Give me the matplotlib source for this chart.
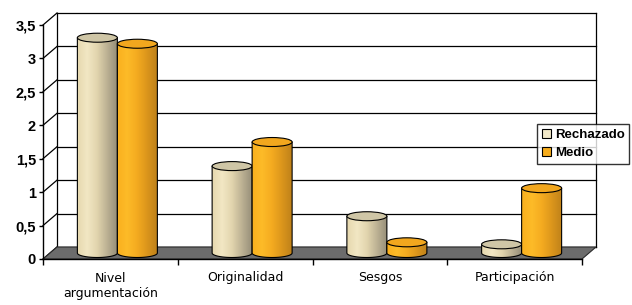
import numpy as np
import matplotlib
matplotlib.use('Agg')
import matplotlib.pyplot as plt
from matplotlib.patches import Polygon, Ellipse, PathPatch, Patch
from matplotlib.path import Path
from matplotlib.colors import LinearSegmentedColormap

# datos
categorias = ['Nivel\nargumentación', 'Originalidad', 'Sesgos', 'Participación']
series = ['Rechazado', 'Medio']
rechazado = [3.22, 1.30, 0.55, 0.13]
medio = [3.13, 1.66, 0.16, 0.97]
yticks = [0, 0.5, 1, 1.5, 2, 2.5, 3, 3.5]
ytick_labels = ['0', '0,5', '1', '1,5', '2', '2,5', '3', '3,5']

W, H = 632, 305
fig = plt.figure(figsize=(W / 100, H / 100), dpi=100)
ax = fig.add_axes([43 / W, 46 / H, 539 / W, 234 / H])
ax.set_xlim(0, 4)
ax.set_ylim(0, 3.5)
ax.set_facecolor('none')

# profundidad 3D falsa (px -> datos)
pxx = 4 / 539
pxy = 3.5 / 234
dx, dy = 14 * pxx, 12 * pxy

# suelo gris
ax.add_patch(Polygon([(0, 0), (4, 0), (4 + dx, dy), (dx, dy)], closed=True,
                     facecolor='#6c6c6c', edgecolor='#2a2a2a', lw=0.8,
                     clip_on=False, zorder=1))

# pared del fondo y pared lateral
for y in yticks:
    ax.plot([dx, 4 + dx], [y + dy, y + dy], color='black', lw=0.9,
            clip_on=False, zorder=0)
    ax.plot([0, dx], [y, y + dy], color='black', lw=0.9, clip_on=False, zorder=0)
ax.plot([dx, dx], [dy, 3.5 + dy], color='black', lw=0.9, clip_on=False, zorder=0)
ax.plot([4 + dx, 4 + dx], [dy, 3.5 + dy], color='black', lw=0.9, clip_on=False, zorder=0)

# cilindros
bw = 40 * pxx
eh = 9 * pxy
cmaps = [
    LinearSegmentedColormap.from_list('r', ['#e6d8ae', '#f2e7c4', '#e2d5ae', '#bdb294', '#98907a']),
    LinearSegmentedColormap.from_list('m', ['#f9b01e', '#fdbb28', '#f4ab20', '#dc961c', '#c0821a']),
]
tops = ['#cfc6a6', '#f2a71e']
grad = np.linspace(0, 1, 64).reshape(1, -1)

for j, vals in enumerate([rechazado, medio]):
    for i, v in enumerate(vals):
        xc = i + 0.5 + (j - 0.5) * bw + dx / 2
        base = dy / 2
        top = v + dy / 2
        t = np.linspace(np.pi, 2 * np.pi, 40)
        verts = [(xc - bw / 2, top), (xc - bw / 2, base)]
        verts += list(zip(xc + bw / 2 * np.cos(t), base + eh / 2 * np.sin(t)))
        verts += [(xc + bw / 2, top), (xc - bw / 2, top)]
        codes = [Path.MOVETO] + [Path.LINETO] * (len(verts) - 2) + [Path.CLOSEPOLY]
        body = PathPatch(Path(verts, codes), facecolor='none', edgecolor='black',
                         lw=0.8, clip_on=False, zorder=3 + j)
        ax.add_patch(body)
        im = ax.imshow(grad, cmap=cmaps[j], aspect='auto', zorder=2.5 + j,
                       extent=[xc - bw / 2, xc + bw / 2, base - eh / 2, top],
                       interpolation='bilinear')
        im.set_clip_path(body)
        ax.add_patch(Ellipse((xc, top), bw, eh, facecolor=tops[j], edgecolor='black',
                             lw=0.8, clip_on=False, zorder=3.2 + j))

ax.set_xlim(0, 4)
ax.set_ylim(0, 3.5)

# ejes
for s in ['top', 'right']:
    ax.spines[s].set_visible(False)
ax.spines['left'].set_linewidth(1)
ax.spines['bottom'].set_linewidth(1)
ax.spines['left'].set_zorder(6)
ax.spines['bottom'].set_zorder(6)
ax.set_yticks(yticks)
ax.set_yticklabels(ytick_labels, fontfamily=['Liberation Sans', 'DejaVu Sans'],
                   fontweight='bold', fontsize=10.5)
ax.tick_params(axis='y', length=3, width=1, pad=2)
ax.set_xticks([0.5, 1.5, 2.5, 3.5])
ax.set_xticklabels(categorias, fontfamily='DejaVu Sans', fontsize=9,
                   linespacing=1.25)
ax.tick_params(axis='x', length=0, pad=9)
ax.set_xticks([0, 1, 2, 3, 4], minor=True)
ax.tick_params(axis='x', which='minor', length=4, width=1)

# leyenda
handles = [Patch(facecolor='#f1e8c8', edgecolor='black', lw=0.8),
           Patch(facecolor='#f7ad1c', edgecolor='black', lw=0.8)]
leg = fig.legend(handles, series, loc='upper left',
                 bbox_to_anchor=(537 / W, 1 - 124 / H), frameon=True,
                 fancybox=False, edgecolor='black', handlelength=0.7,
                 handleheight=0.7, handletextpad=0.3, borderpad=0.35,
                 labelspacing=0.45, borderaxespad=0,
                 prop={'family': ['Liberation Sans', 'DejaVu Sans'],
                       'weight': 'bold', 'size': 9.5})
leg.get_frame().set_linewidth(1)

fig.savefig('out.png', dpi=100)
